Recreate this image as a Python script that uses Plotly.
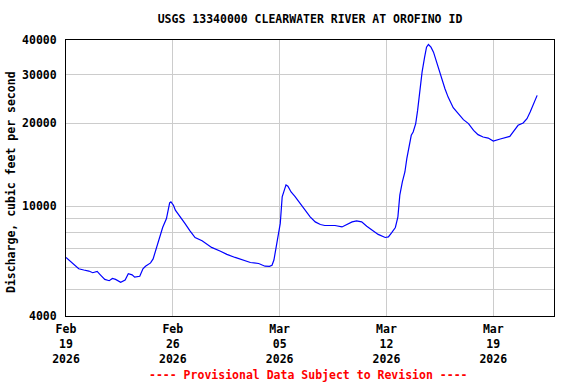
import math
import plotly.graph_objects as go

times = [
    "2026-02-19 00:00", "2026-02-19 06:00", "2026-02-19 12:00", "2026-02-19 20:00",
    "2026-02-20 04:00", "2026-02-20 12:00", "2026-02-20 18:00", "2026-02-21 01:00",
    "2026-02-21 06:00", "2026-02-21 13:00", "2026-02-21 20:00", "2026-02-22 01:00",
    "2026-02-22 06:00", "2026-02-22 14:00", "2026-02-22 21:00", "2026-02-23 02:00",
    "2026-02-23 08:00", "2026-02-23 12:00", "2026-02-23 20:00", "2026-02-24 01:00",
    "2026-02-24 05:00", "2026-02-24 13:00", "2026-02-24 17:00", "2026-02-24 22:00",
    "2026-02-25 03:00", "2026-02-25 08:00", "2026-02-25 14:00", "2026-02-25 19:00",
    "2026-02-25 21:00", "2026-02-26 01:00", "2026-02-26 04:00", "2026-02-26 10:00",
    "2026-02-26 14:00", "2026-02-26 19:00", "2026-02-27 03:00", "2026-02-27 11:00",
    "2026-02-27 22:00", "2026-02-28 06:00", "2026-02-28 13:00", "2026-03-01 03:00",
    "2026-03-01 13:00", "2026-03-02 02:00", "2026-03-02 13:00", "2026-03-03 02:00",
    "2026-03-03 15:00", "2026-03-04 01:00", "2026-03-04 08:00", "2026-03-04 12:00",
    "2026-03-04 15:00", "2026-03-04 18:00", "2026-03-04 21:00", "2026-03-05 01:00",
    "2026-03-05 04:00", "2026-03-05 08:00", "2026-03-05 10:00", "2026-03-05 13:00",
    "2026-03-05 18:00", "2026-03-06 00:00", "2026-03-06 08:00", "2026-03-06 16:00",
    "2026-03-07 00:00", "2026-03-07 08:00", "2026-03-07 16:00", "2026-03-07 23:00",
    "2026-03-08 15:00", "2026-03-09 02:00", "2026-03-09 10:00", "2026-03-09 18:00",
    "2026-03-10 01:00", "2026-03-10 09:00", "2026-03-10 17:00", "2026-03-11 01:00",
    "2026-03-11 11:00", "2026-03-11 22:00", "2026-03-12 03:00", "2026-03-12 08:00",
    "2026-03-12 14:00", "2026-03-12 18:00", "2026-03-12 21:00", "2026-03-13 01:00",
    "2026-03-13 05:00", "2026-03-13 08:00", "2026-03-13 12:00", "2026-03-13 15:00",
    "2026-03-13 18:00", "2026-03-13 22:00", "2026-03-14 01:00", "2026-03-14 05:00",
    "2026-03-14 08:00", "2026-03-14 12:00", "2026-03-14 15:00", "2026-03-14 18:00",
    "2026-03-14 22:00", "2026-03-15 02:00", "2026-03-15 06:00", "2026-03-15 10:00",
    "2026-03-15 15:00", "2026-03-15 20:00", "2026-03-16 01:00", "2026-03-16 07:00",
    "2026-03-16 09:00", "2026-03-16 17:00", "2026-03-17 01:00", "2026-03-17 09:00",
    "2026-03-17 17:00", "2026-03-18 00:00", "2026-03-18 08:00", "2026-03-18 16:00",
    "2026-03-19 00:00", "2026-03-19 11:00", "2026-03-19 21:00", "2026-03-20 02:00",
    "2026-03-20 07:00", "2026-03-20 15:00", "2026-03-20 23:00", "2026-03-21 05:00",
    "2026-03-21 10:00", "2026-03-21 15:00", "2026-03-21 21:00",
]
discharge = [
    6520, 6340, 6170, 5930,
    5870, 5820, 5740, 5800,
    5640, 5430, 5370, 5470,
    5430, 5300, 5400, 5690,
    5640, 5530, 5570, 5930,
    6060, 6230, 6440, 7000,
    7640, 8370, 9020, 10280,
    10360, 10080, 9670, 9280,
    8950, 8660, 8140, 7700,
    7490, 7280, 7090, 6870,
    6690, 6520, 6380, 6250,
    6200, 6060, 6050, 6110,
    6380, 6930, 7530, 8660,
    10800, 11740, 11940, 11810,
    11260, 10860, 10220, 9670,
    9150, 8770, 8580, 8510,
    8510, 8410, 8580, 8770,
    8850, 8770, 8460, 8190,
    7900, 7700, 7740, 8000,
    8370, 9150, 10960, 12240,
    13300, 14870, 16610, 18060,
    18560, 19910, 22230, 26640,
    30590, 34660, 37670, 38520,
    37670, 36140, 33730, 31470,
    28950, 26640, 24840, 23320,
    22750, 21630, 20580, 19910,
    18830, 18160, 17800, 17650,
    17220, 17510, 17800, 17900,
    18560, 19630, 20010, 20750,
    21920, 23510, 25200,
]

chart_title = "USGS 13340000 CLEARWATER RIVER AT OROFINO ID"
y_axis_title = "Discharge, cubic feet per second"
footer_text = "---- Provisional Data Subject to Revision ----"

x_tick_vals = ["2026-02-19", "2026-02-26", "2026-03-05", "2026-03-12", "2026-03-19"]
x_tick_text = ["Feb<br>19<br>2026", "Feb<br>26<br>2026", "Mar<br>05<br>2026",
               "Mar<br>12<br>2026", "Mar<br>19<br>2026"]
y_tick_vals = [4000, 5000, 6000, 7000, 8000, 9000, 10000, 20000, 30000, 40000]
y_tick_text = ["4000", "", "", "", "", "", "10000", "20000", "30000", "40000"]
x_range = ["2026-02-19 00:00", "2026-03-22 23:30"]
y_range = [4000, 40000]

FONT = dict(family="DejaVu Sans Mono", size=11.5, color="black", weight="bold")

fig = go.Figure()
fig.add_trace(go.Scatter(
    x=times, y=discharge, mode="lines",
    line=dict(color="#0000FF", width=1.2),
    showlegend=False, hoverinfo="skip",
))

fig.update_layout(
    width=576, height=384,
    margin=dict(l=66, r=22, t=40, b=68, autoexpand=False),
    paper_bgcolor="white", plot_bgcolor="white",
    font=FONT,
    title=dict(text=chart_title, x=0.5, xref="paper", xanchor="center",
               y=1 - 19 / 384, yref="container", yanchor="middle",
               font=FONT, automargin=False),
    showlegend=False,
)

fig.update_xaxes(
    type="date", range=x_range, automargin=False,
    tickmode="array", tickvals=x_tick_vals, ticktext=x_tick_text,
    showgrid=True, gridcolor="#cccccc", gridwidth=1,
    showline=True, linecolor="black", linewidth=1, mirror=True,
    ticks="outside", ticklen=2, tickcolor="rgba(0,0,0,0)",
    tickfont=FONT, zeroline=False,
)
fig.update_yaxes(
    type="log", range=[math.log10(y_range[0]), math.log10(y_range[1])],
    automargin=False,
    tickmode="array", tickvals=y_tick_vals, ticktext=y_tick_text,
    showgrid=True, gridcolor="#cccccc", gridwidth=1,
    showline=True, linecolor="black", linewidth=1, mirror=True,
    ticks="outside", ticklen=6, tickcolor="rgba(0,0,0,0)",
    tickfont=FONT, zeroline=False,
)

fig.add_annotation(
    text=y_axis_title, textangle=-90,
    xref="paper", yref="paper", x=(11 - 66) / 488, y=(316 - 182) / 276,
    xanchor="center", yanchor="middle", showarrow=False, font=FONT,
)
fig.add_annotation(
    text=footer_text,
    xref="paper", yref="paper", x=(308.5 - 66) / 488, y=(316 - 375) / 276,
    xanchor="center", yanchor="middle", showarrow=False,
    font=dict(family="DejaVu Sans Mono", size=11.5, color="#FF0000", weight="bold"),
)

fig.write_html(
    "out.html",
    config={"displayModeBar": False, "staticPlot": True},
    post_script="document.body.style.margin='0px';document.body.style.padding='0px';",
)
